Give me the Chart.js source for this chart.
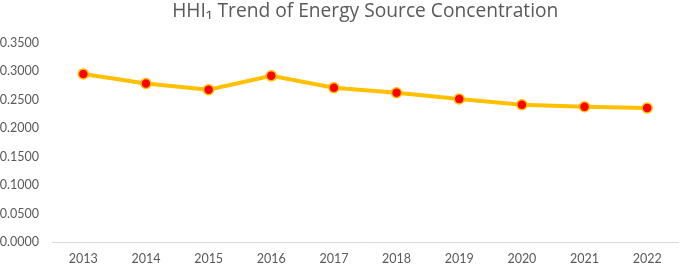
<!DOCTYPE html>
<html>
<head>
<meta charset="utf-8">
<script src="https://cdn.jsdelivr.net/npm/chart.js@4"></script>
<style>
html,body{margin:0;padding:0;background:#fff;}
#wrap{width:685px;height:265px;position:relative;}
</style>
</head>
<body>
<div id="wrap"><canvas id="c"></canvas></div>
<script>
const years = ["2013","2014","2015","2016","2017","2018","2019","2020","2021","2022"];
const hhiValues = [0.2957, 0.2788, 0.2678, 0.2923, 0.2713, 0.2625, 0.2515, 0.2415, 0.2380, 0.2357];
const chartTitle = "HHI\u2081 Trend of Energy Source Concentration";

new Chart(document.getElementById('c'), {
  type: 'line',
  data: {
    labels: years,
    datasets: [{
      data: hhiValues,
      borderColor: '#FFC000',
      borderWidth: 4,
      pointBackgroundColor: '#FF0000',
      pointBorderColor: '#FFC000',
      pointBorderWidth: 1.5,
      pointRadius: 5,
      tension: 0,
      fill: false
    }]
  },
  options: {
    responsive: true,
    maintainAspectRatio: false,
    animation: false,
    layout: { padding: { left: 0, right: 1, top: 0, bottom: 0 } },
    plugins: {
      legend: { display: false },
      tooltip: { enabled: false },
      title: {
        display: true,
        fullSize: false,
        text: chartTitle,
        color: '#595959',
        font: { family: '"Open Sans", Lato, sans-serif', size: 19.2, weight: 'normal' },
        padding: { top: 0, bottom: 20 }
      }
    },
    scales: {
      x: {
        offset: true,
        grid: { display: false, drawTicks: false },
        border: { display: true, color: '#D9D9D9', width: 1 },
        ticks: { color: '#595959', font: { family: 'Lato, "Open Sans", sans-serif', size: 12.5 }, padding: 9 },
        afterFit: s => { s.height = 23; }
      },
      y: {
        min: 0, max: 0.35,
        grid: { display: false, drawTicks: false },
        border: { display: false },
        ticks: {
          stepSize: 0.05,
          color: '#595959',
          font: { family: 'Lato, "Open Sans", sans-serif', size: 12.5 },
          padding: 13,
          callback: v => Number(v).toFixed(4)
        },
        afterFit: s => { s.width = 52; }
      }
    }
  }
});
</script>
</body>
</html>
